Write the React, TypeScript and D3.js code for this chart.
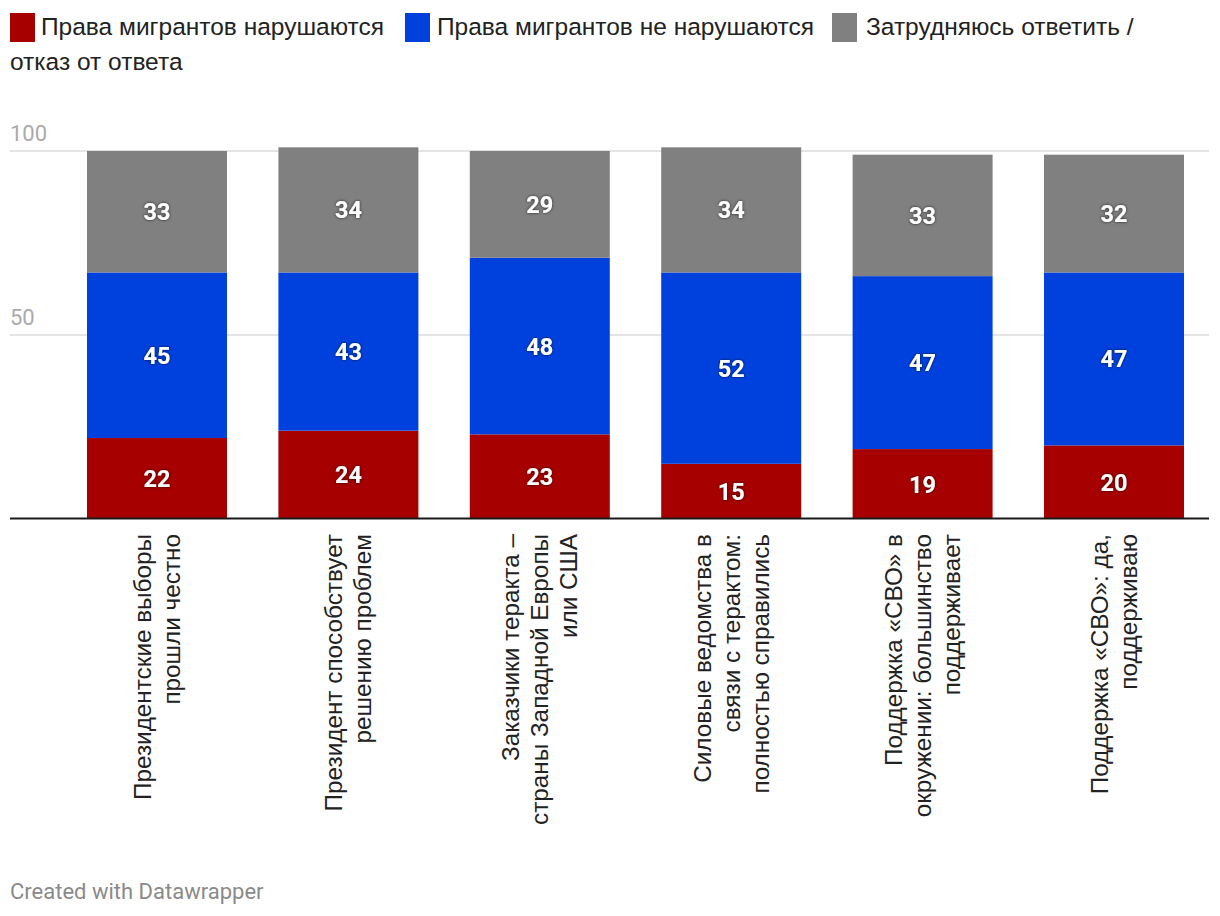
import React from "react";
import * as d3 from "d3";

const categories: string[][] = [
  ["Президентские выборы", "прошли честно"],
  ["Президент способствует", "решению проблем"],
  ["Заказчики теракта –", "страны Западной Европы", "или США"],
  ["Силовые ведомства в", "связи с терактом:", "полностью справились"],
  ["Поддержка «СВО» в", "окружении: большинство", "поддерживает"],
  ["Поддержка «СВО»: да,", "поддерживаю"],
];
const violated = [22, 24, 23, 15, 19, 20];
const notViolated = [45, 43, 48, 52, 47, 47];
const hardToSay = [33, 34, 29, 34, 33, 32];
const seriesNames = [
  "Права мигрантов нарушаются",
  "Права мигрантов не нарушаются",
  "Затрудняюсь ответить /",
];
const seriesNameCont = "отказ от ответа";
const colors = ["#a60000", "#0041de", "#808080"];
const yTicks = [50, 100];
const footer = "Created with Datawrapper";

const W = 1220;
const H = 916;
const SANS = "'Liberation Sans', Arial, Helvetica, sans-serif";

export default function App() {
  const keys = ["v", "n", "h"];
  const rows = categories.map((c, i) => ({
    key: String(i),
    v: violated[i],
    n: notViolated[i],
    h: hardToSay[i],
  }));
  const stacked = d3.stack<any>().keys(keys)(rows);
  const x = d3
    .scaleBand<string>()
    .domain(rows.map((r) => r.key))
    .range([87, 1184])
    .paddingInner(0.2686)
    .paddingOuter(0);
  const y = d3.scaleLinear().domain([0, 100]).range([519, 151]);

  const legendItems = [
    { x: 10, tx: 41 },
    { x: 405, tx: 437 },
    { x: 832, tx: 866 },
  ];

  return (
    <div style={{ position: "absolute", left: 0, top: 0 }}>
      <svg width={W} height={H} style={{ display: "block", background: "#fff" }}>
        <defs>
          <filter id="shadow" x="-30%" y="-30%" width="160%" height="160%">
            <feDropShadow dx="0" dy="0" stdDeviation="1.6" floodColor="#000" floodOpacity="0.75" />
          </filter>
        </defs>
        {/* legend */}
        {legendItems.map((it, i) => (
          <g key={i}>
            <rect x={it.x} y={13} width={25} height={29} fill={colors[i]} />
            <text x={it.tx} y={35} fontFamily={SANS} fontSize={24.5} fill="#222">
              {seriesNames[i]}
            </text>
          </g>
        ))}
        <text x={10} y={70} fontFamily={SANS} fontSize={24.5} fill="#222">
          {seriesNameCont}
        </text>

        {/* grid */}
        {yTicks.map((t) => (
          <g key={t}>
            <line x1={10} x2={1209} y1={y(t)} y2={y(t)} stroke="#e4e4e4" strokeWidth={2} />
            <text x={10} y={y(t) - 10} fontFamily="Roboto, sans-serif" fontSize={22} fill="#aaaaaa">
              {t}
            </text>
          </g>
        ))}

        {/* bars */}
        {stacked.map((s, si) => (
          <g key={si} fill={colors[si]}>
            {s.map((d: any, i: number) => (
              <rect
                key={i}
                x={x(String(i))}
                y={y(d[1])}
                width={x.bandwidth()}
                height={y(d[0]) - y(d[1])}
              />
            ))}
          </g>
        ))}
        {stacked.map((s, si) => (
          <g key={"l" + si}>
            {s.map((d: any, i: number) => (
              <text
                key={i}
                x={(x(String(i)) as number) + x.bandwidth() / 2}
                y={(y(d[0]) + y(d[1])) / 2}
                dy="0.36em"
                textAnchor="middle"
                fontFamily="Roboto, sans-serif"
                fontWeight={700}
                fontSize={23.5}
                fill="#fff"
                filter="url(#shadow)"
              >
                {d[1] - d[0]}
              </text>
            ))}
          </g>
        ))}

        {/* baseline */}
        <line x1={10} x2={1209} y1={518.5} y2={518.5} stroke="#1a1a1a" strokeWidth={2.2} />

        {/* x labels */}
        {categories.map((lines, i) => {
          const cx = (x(String(i)) as number) + x.bandwidth() / 2;
          const lh = 29;
          const n = lines.length;
          return (
            <g key={i} transform={`translate(${cx},534) rotate(-90)`}>
              {lines.map((ln, li) => (
                <text
                  key={li}
                  x={0}
                  y={(li - (n - 1) / 2) * lh}
                  dy="0.35em"
                  textAnchor="end"
                  fontFamily={SANS}
                  fontSize={24.3}
                  fill="#222"
                >
                  {ln}
                </text>
              ))}
            </g>
          );
        })}

        <text x={10} y={899} fontFamily="Roboto, sans-serif" fontSize={22} fill="#8a8a8a">
          {footer}
        </text>
      </svg>
    </div>
  );
}
